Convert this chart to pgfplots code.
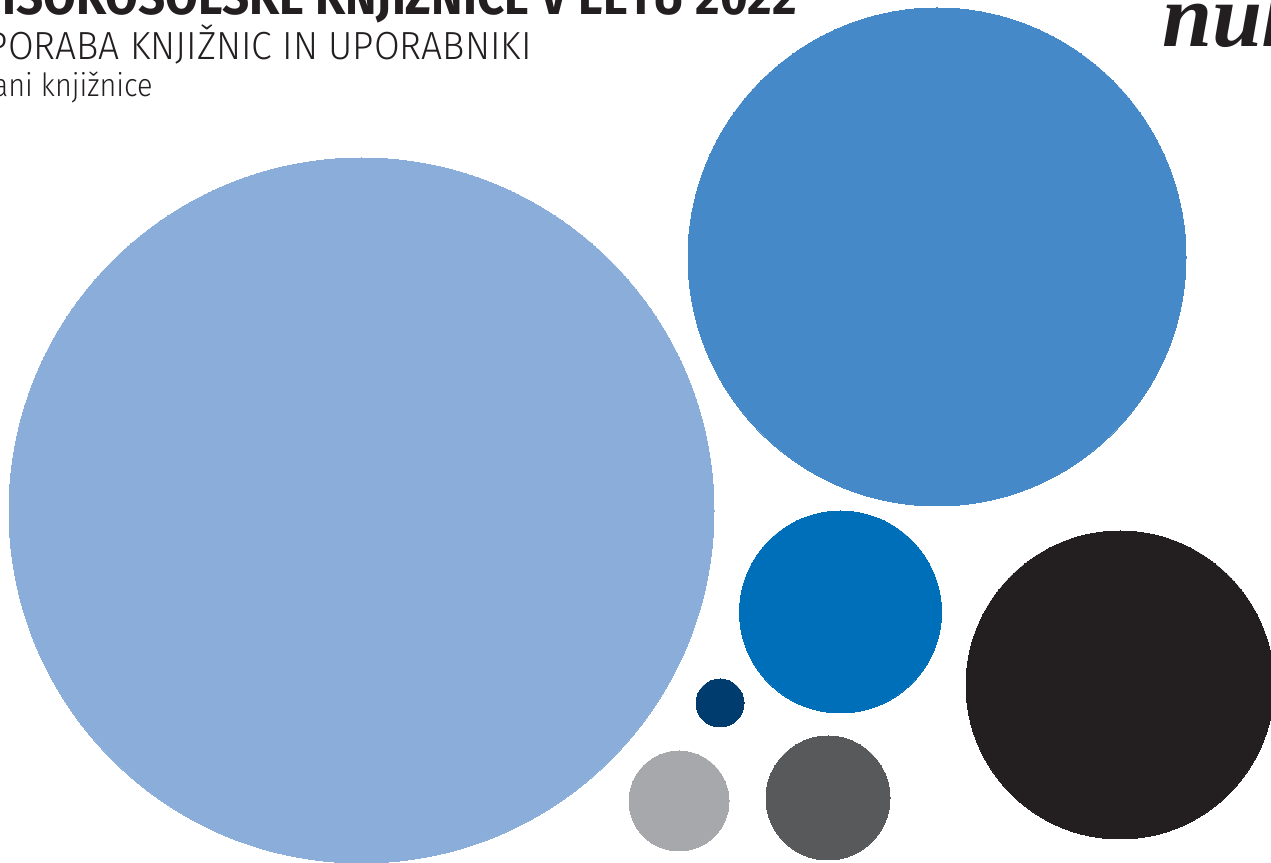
\documentclass[border=0pt]{standalone}
\usepackage{pgfplots}
\pgfplotsset{compat=1.18}
\usepackage{fontspec}
\setmainfont{Fira Sans}
\newfontfamily\titlefont[FakeStretch=0.93]{Fira Sans}
\newfontfamily\lightfont[FakeStretch=0.95]{Fira Sans Light}
\newfontfamily\smallfont[FakeStretch=0.9]{Fira Sans Light}
\newfontfamily\logofont{Liberation Serif}
\definecolor{c1}{HTML}{8AADD9}
\definecolor{c2}{HTML}{4589C8}
\definecolor{c3}{HTML}{006FB9}
\definecolor{c4}{HTML}{231F20}
\definecolor{c5}{HTML}{003D6E}
\definecolor{c6}{HTML}{A7A8AC}
\definecolor{c7}{HTML}{58595B}
\begin{document}
\begin{tikzpicture}[x=0.5pt,y=0.5pt]
\useasboundingbox (0,0) rectangle (1271,863);
\fill[white] (0,0) rectangle (1271,863);
\begin{axis}[
  at={(0,0)}, anchor=south west,
  x=0.5pt, y=0.5pt,
  xmin=0, xmax=1271, ymin=0, ymax=863,
  hide axis, clip=false,
  every axis plot/.append style={only marks, mark=*, line width=0pt},
]
\addplot[color=c1, mark size=176.25pt, mark options={fill=c1}] coordinates {(361.5,352.5)};
\addplot[color=c2, mark size=124.5pt, mark options={fill=c2}] coordinates {(937,606)};
\addplot[color=c3, mark size=50.5pt, mark options={fill=c3}] coordinates {(840.5,251)};
\addplot[color=c4, mark size=77pt, mark options={fill=c4}] coordinates {(1120,178)};
\addplot[color=c5, mark size=12pt, mark options={fill=c5}] coordinates {(720,160)};
\addplot[color=c6, mark size=25pt, mark options={fill=c6}] coordinates {(679,62)};
\addplot[color=c7, mark size=31pt, mark options={fill=c7}] coordinates {(828,65)};
\end{axis}
\node[anchor=base east, inner sep=0pt, text=c4, font=\titlefont\bfseries\fontsize{25.5}{25.5}\selectfont] at (797,848) {VISOKOŠOLSKE KNJIŽNICE V LETU 2022};
\node[anchor=base east, inner sep=0pt, text=c4, font=\lightfont\fontsize{19.6}{19.6}\selectfont] at (532,803) {UPORABA KNJIŽNIC IN UPORABNIKI};
\node[anchor=base east, inner sep=0pt, text=c4, font=\smallfont\fontsize{16}{16}\selectfont] at (153,766) {Člani knjižnice};
\node[anchor=base west, inner sep=0pt, text=c4, font=\logofont\bfseries\itshape\fontsize{45}{45}\selectfont] at (1162,816) {nuk};
\end{tikzpicture}
\end{document}
